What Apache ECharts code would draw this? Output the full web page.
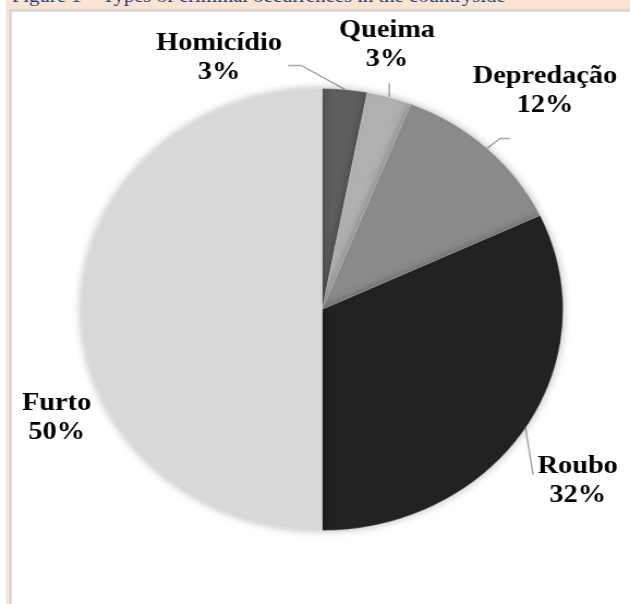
<!DOCTYPE html>
<html>
<head>
<meta charset="utf-8">
<script src="https://cdn.jsdelivr.net/npm/echarts@6/dist/echarts.min.js"></script>
<style>
  html, body { margin: 0; padding: 0; background: #fff; }
  #peach { position: absolute; left: 6px; top: 0; width: 624px; height: 604px; background: #fbe3d6; }
  #frame { position: absolute; left: 9px; top: 9px; width: 618px; height: 592px; background: #fff;
           border-left: 3px solid #d9d9d9; border-top: 3px solid #d9d9d9; }
  /* the source figure is stretched sideways, so the pie is an ellipse */
  #main { position: absolute; left: 0; top: 0; width: 578px; height: 604px;
          transform: scaleX(1.09); transform-origin: 0 0; }
</style>
</head>
<body>
<div id="peach"></div>
<div id="frame"></div>
<div id="main"></div>
<script>
const categories = ['Homicídio', 'Queima', 'Depredação', 'Roubo', 'Furto'];
const values = [3, 3, 12, 32, 50];

const sliceColors = ['#5e5e5e', '#b0b0b0', '#8a8a8a', '#222222', '#d9d9d9'];
// label centres (unstretched px) and leader line bends relative to the slice edge point
const labelCenters = [[201, 58], [355, 45], [500, 91], [530, 481], [52, 418]];
const guideBends = [
    [[-40, -24], [-52, -24]],
    [[0, -14], [0, -14]],
    [[12, -10], [21, -10]],
    [[7, 47], [7, 47]],
    null
];

const serif = '"Liberation Serif", "Times New Roman", Times, serif';

let myChart = echarts.init(document.getElementById('main'));
myChart.setOption({
    animation: false,
    title: {
        text: 'Figure 1 – Types of criminal occurrences in the countryside',
        left: 11,
        top: -12,
        padding: 0,
        textStyle: {
            fontFamily: serif,
            fontWeight: 'normal',
            fontSize: 19,
            lineHeight: 19,
            color: '#1f3864'
        }
    },
    series: [
        {
            type: 'pie',
            center: [295.5, 309.5],
            radius: 221,
            startAngle: 90,
            avoidLabelOverlap: false,
            percentPrecision: 0,
            itemStyle: {
                borderColor: 'rgba(255,255,255,0.4)',
                borderWidth: 0.5,
                shadowBlur: 8,
                shadowColor: 'rgba(0,0,0,0.3)'
            },
            label: {
                show: true,
                position: 'outside',
                formatter: '{b}\n{d}%',
                fontFamily: serif,
                fontWeight: 700,
                fontSize: 26,
                lineHeight: 29,
                color: '#000',
                align: 'center'
            },
            labelLine: {
                show: true,
                length: 10,
                length2: 10,
                lineStyle: { color: '#a6a6a6', width: 1.5 }
            },
            labelLayout: function (params) {
                let i = params.dataIndex;
                let c = labelCenters[i];
                let res = { x: c[0], y: c[1], align: 'center', verticalAlign: 'middle' };
                let bends = guideBends[i];
                let p0 = params.labelLinePoints ? params.labelLinePoints[0] : null;
                if (bends && p0) {
                    res.labelLinePoints = [
                        [p0[0], p0[1]],
                        [p0[0] + bends[0][0], p0[1] + bends[0][1]],
                        [p0[0] + bends[1][0], p0[1] + bends[1][1]]
                    ];
                }
                return res;
            },
            data: categories.map(function (name, i) {
                return {
                    name: name,
                    value: values[i],
                    itemStyle: { color: sliceColors[i] },
                    labelLine: { show: guideBends[i] !== null }
                };
            })
        }
    ]
});
</script>
</body>
</html>
